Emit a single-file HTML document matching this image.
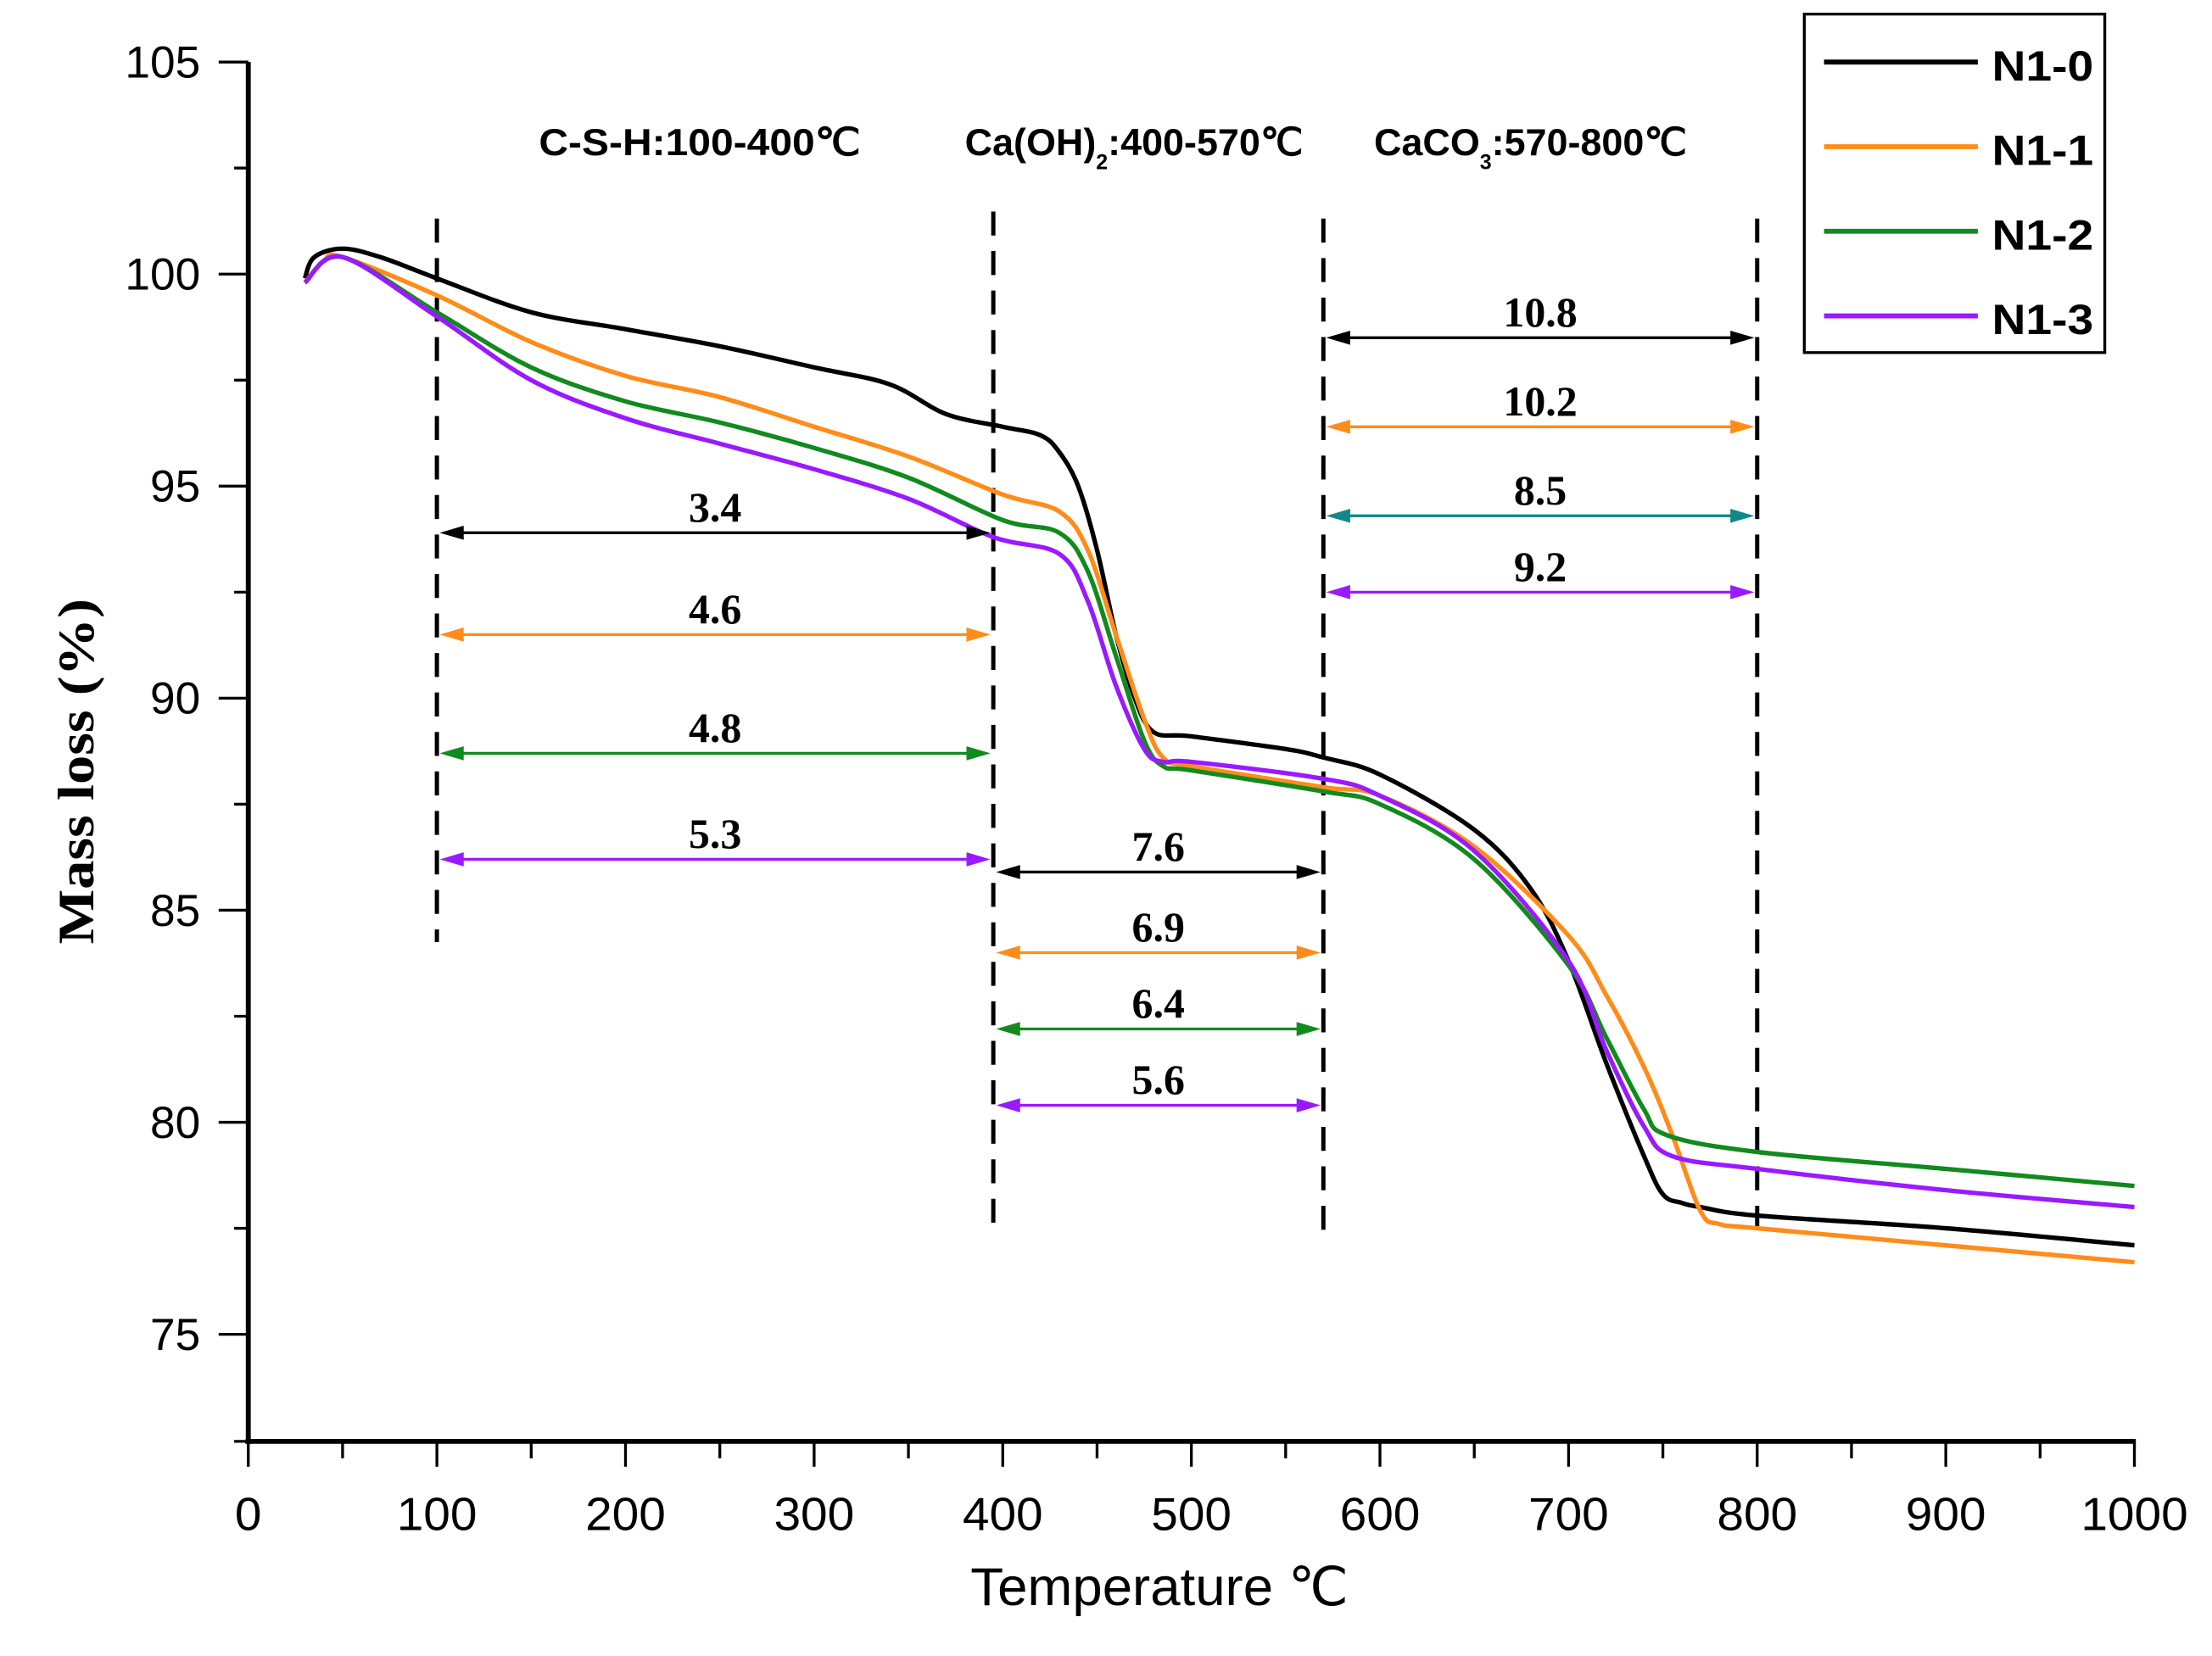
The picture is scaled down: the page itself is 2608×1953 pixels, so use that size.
<!DOCTYPE html>
<html><head><meta charset="utf-8"><style>
html,body{margin:0;padding:0;background:#fff;}
svg{display:block;}
</style></head><body>
<svg id="chart" width="2608" height="1953" viewBox="0 0 1568 1174" preserveAspectRatio="xMinYMin meet" xmlns="http://www.w3.org/2000/svg" font-family="Liberation Sans, sans-serif">
<g id="axes"></g>
<g id="guides"></g>
<g id="series"></g>
<g id="annots"></g>
<g id="legend"></g>
</svg>
<script>
const NS='http://www.w3.org/2000/svg';
const xTicks=[0,100,200,300,400,500,600,700,800,900,1000];
const yTicks=[75,80,85,90,95,100,105];
const seriesNames=['N1-0','N1-1','N1-2','N1-3'];
const seriesColors=['#000000','#ff8c1a','#118a1e','#9a1aff'];
const tempN10=[30,35,50,70,100,150,200,250,300,340,370,400,420,430,440,450,460,470,480,500,550,570,600,650,680,700,720,740,750,760,770,800,900,1000];
const massN10=[99.9,100.4,100.6,100.4,99.9,99.1,98.7,98.3,97.8,97.4,96.7,96.4,96.2,95.8,95.0,93.5,91.5,90.0,89.2,89.1,88.8,88.6,88.2,86.9,85.5,83.8,81.4,79.2,78.3,78.1,78.0,77.8,77.5,77.1];
const tempN11=[30,40,50,100,150,200,250,300,350,400,430,445,460,475,485,500,570,600,650,700,720,740,755,770,780,800,900,1000];
const massN11=[99.8,100.3,100.4,99.5,98.4,97.6,97.1,96.4,95.7,94.8,94.4,93.5,91.5,89.5,88.6,88.4,87.9,87.7,86.5,84.4,83.0,81.3,79.7,77.9,77.6,77.5,77.1,76.7];
const tempN12=[30,50,100,150,200,250,300,350,400,430,445,460,475,485,500,570,600,650,700,720,740,752,800,900,1000];
const massN12=[99.8,100.4,99.1,97.8,97.0,96.5,95.9,95.2,94.2,93.9,93.0,91.0,89.0,88.4,88.3,87.8,87.5,86.2,83.7,82.0,80.3,79.7,79.3,78.9,78.5];
const tempN13=[30,50,100,150,200,250,300,350,395,430,445,460,475,485,500,570,600,650,700,720,740,755,800,900,1000];
const massN13=[99.8,100.4,99.0,97.5,96.6,96.0,95.4,94.7,93.8,93.4,92.3,90.3,88.8,88.5,88.5,88.1,87.7,86.4,83.8,81.7,79.9,79.2,78.9,78.4,78.0];
const seriesTemps=[tempN10,tempN11,tempN12,tempN13];
const seriesMass=[massN10,massN11,massN12,massN13];
const regionBounds=[100,395,570,800];
const arrowLabels=['3.4','4.6','4.8','5.3','7.6','6.9','6.4','5.6','10.8','10.2','8.5','9.2'];
const arrowLevels=[93.9,91.5,88.7,86.2,85.9,84.0,82.2,80.4,98.5,96.4,94.3,92.5];
const arrowColors=['#000','#ff8c1a','#118a1e','#9a1aff','#000','#ff8c1a','#118a1e','#9a1aff','#000','#ff8c1a','#11898a','#9a1aff'];
const arrowRegion=[0,0,0,0,1,1,1,1,2,2,2,2];

const X=t=>176+t*1.337;
const Y=v=>44+(105-v)*30.07;
function mk(tag,attrs,parent,text){const e=document.createElementNS(NS,tag);for(const k in attrs)e.setAttribute(k,attrs[k]);if(text!==undefined)e.textContent=text;parent.appendChild(e);return e;}
const axes=document.getElementById('axes');
let e;
e=mk('line',{x1:176,y1:44,x2:176,y2:1024,stroke:'#000','stroke-width':3.5},axes);


e=mk('line',{x1:174,y1:1022,x2:1514,y2:1022,stroke:'#000','stroke-width':3.5},axes);


for(let v=72.5;v<=105.01;v+=2.5){const maj=Math.abs(v%5)<0.01;const y=v===72.5?1022:Y(v);e=mk('line',{x1:maj?155:166,y1:y,x2:176,y2:y,stroke:'#000','stroke-width':2},axes);

}
yTicks.forEach(v=>{e=mk('text',{x:142,y:Y(v)+11,'text-anchor':'end','font-size':32},axes,String(v));

});
for(let t=0;t<=1000;t+=50){const maj=t%100===0;e=mk('line',{x1:X(t),y1:1022,x2:X(t),y2:maj?1040:1034,stroke:'#000','stroke-width':2},axes);

}
xTicks.forEach(t=>{e=mk('text',{x:X(t),y:1085,'text-anchor':'middle','font-size':33,textLength:String(t).length*19,lengthAdjust:'spacingAndGlyphs'},axes,String(t));

});
e=mk('text',{x:822,y:1138,'text-anchor':'middle','font-size':38,textLength:268,lengthAdjust:'spacingAndGlyphs'},axes,'Temperature ℃');


e=mk('text',{x:0,y:0,'text-anchor':'middle','font-size':36,'font-weight':'bold','font-family':'Liberation Serif, serif',textLength:245,lengthAdjust:'spacingAndGlyphs',transform:'translate(66,547) rotate(-90)'},axes,'Mass loss  (%)');



const guides=document.getElementById('guides');
const guideY=[[155,668],[150,872],[155,882],[155,877]];
regionBounds.forEach((t,i)=>{e=mk('line',{x1:X(t),y1:guideY[i][0],x2:X(t),y2:guideY[i][1],stroke:'#000','stroke-width':3,'stroke-dasharray':'17,11'},guides);

});
e=mk('text',{x:382,y:110,'font-size':27,'font-weight':'bold',textLength:228,lengthAdjust:'spacingAndGlyphs'},guides,'C-S-H:100-400℃');


const r2=mk('text',{x:684,y:110,'font-size':27,'font-weight':'bold'},guides);


r2.innerHTML='<tspan>Ca(OH)</tspan><tspan dy="10" font-size="15">2</tspan><tspan dy="-10">:400-570℃</tspan>';
const r3=mk('text',{x:974,y:110,'font-size':27,'font-weight':'bold'},guides);


r3.innerHTML='<tspan>CaCO</tspan><tspan dy="10" font-size="15">3</tspan><tspan dy="-10">:570-800℃</tspan>';

const series=document.getElementById('series');
function smooth(pts){let d='M'+pts[0][0].toFixed(1)+','+pts[0][1].toFixed(1);for(let i=0;i<pts.length-1;i++){const p0=pts[i-1]||pts[i],p1=pts[i],p2=pts[i+1],p3=pts[i+2]||p2;const c1=[p1[0]+(p2[0]-p0[0])/6,p1[1]+(p2[1]-p0[1])/6],c2=[p2[0]-(p3[0]-p1[0])/6,p2[1]-(p3[1]-p1[1])/6];d+='C'+c1[0].toFixed(1)+','+c1[1].toFixed(1)+' '+c2[0].toFixed(1)+','+c2[1].toFixed(1)+' '+p2[0].toFixed(1)+','+p2[1].toFixed(1);}return d;}
seriesNames.forEach((n,i)=>{const pts=seriesTemps[i].map((t,j)=>[X(t),Y(seriesMass[i][j])]);e=mk('path',{d:smooth(pts),fill:'none',stroke:seriesColors[i],'stroke-width':3.2,'stroke-linejoin':'round'},series);

});

const annots=document.getElementById('annots');
const regionEdges=[[100,395],[395,570],[570,800]];
arrowLabels.forEach((lab,i)=>{const r=regionEdges[arrowRegion[i]];const x1=X(r[0])+2,x2=X(r[1])-2,y=Y(arrowLevels[i]);const g=mk('g',{},annots);


mk('line',{x1:x1+10,y1:y,x2:x2-10,y2:y,stroke:arrowColors[i],'stroke-width':2},g);
mk('polygon',{points:`${x1},${y} ${x1+17},${y-5} ${x1+17},${y+5}`,fill:arrowColors[i]},g);
mk('polygon',{points:`${x2},${y} ${x2-17},${y-5} ${x2-17},${y+5}`,fill:arrowColors[i]},g);
const t=mk('text',{x:(x1+x2)/2,y:y-8,'text-anchor':'middle','font-size':30,'font-weight':'bold','font-family':'Liberation Serif, serif'},g,lab);

});

const legend=document.getElementById('legend');
e=mk('rect',{x:1279,y:10,width:213,height:240,fill:'#fff',stroke:'#000','stroke-width':2},legend);


seriesNames.forEach((n,i)=>{const y=44+i*60;const g=mk('g',{},legend);


mk('line',{x1:1293,y1:y,x2:1402,y2:y,stroke:seriesColors[i],'stroke-width':3.5},g);
mk('text',{x:1412,y:y+13,'font-size':30,'font-weight':'bold',textLength:72,lengthAdjust:'spacingAndGlyphs'},g,n);});
</script>
</body></html>
